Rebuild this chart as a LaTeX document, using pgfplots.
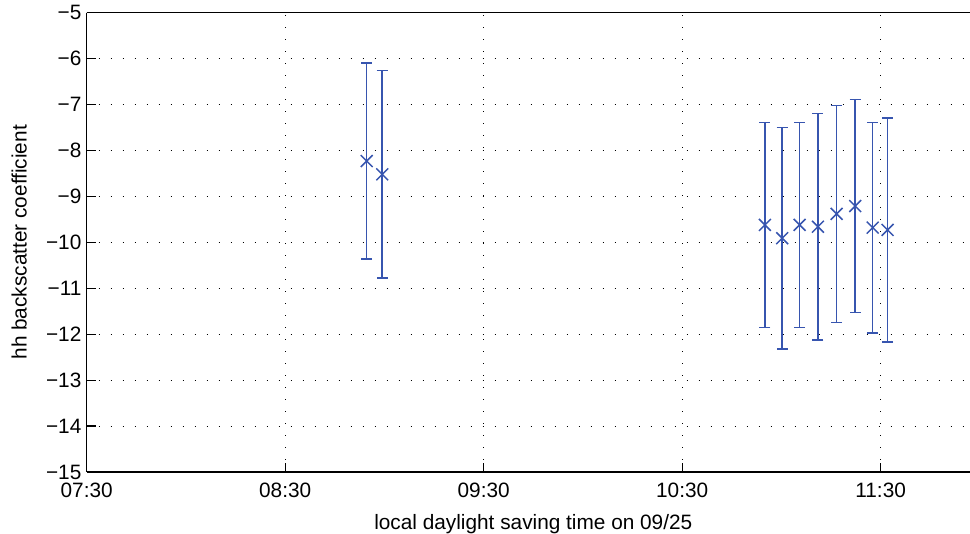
\documentclass[border=0pt]{standalone}
\usepackage{fontspec}
\setmainfont{Liberation Sans}
\usepackage{pgfplots}
\pgfplotsset{compat=1.18}

\definecolor{barblue}{RGB}{55,85,175}

\begin{document}
\fontsize{10.4}{12.5}\selectfont
\begin{tikzpicture}
\begin{axis}[
    scale only axis,
    width=446.6pt,
    height=229.65pt,
    xmin=7.5, xmax=12,
    ymin=-15, ymax=-5,
    axis x line=box,
    axis y line=left,
    axis line style={line width=0.8pt, -},
    xtick={7.5,8.5,9.5,10.5,11.5},
    xticklabels={07:30,08:30,09:30,10:30,11:30},
    ytick={-15,-14,...,-5},
    yticklabels={−15,−14,−13,−12,−11,−10,−9,−8,−7,−6,−5},
    xtick pos=left, ytick pos=left,
    tick align=inside,
    major tick length=4.5pt,
    tick style={line width=0.6pt, black},
    tick label style={font=\fontsize{10.4}{12.5}\selectfont},
    xticklabel style={yshift=-2pt},
    yticklabel style={xshift=1pt},
    grid=major,
    grid style={black, line width=0.5pt, dash pattern=on 0.6pt off 5.4pt},
    xlabel={local daylight saving time on 09/25},
    ylabel={hh backscatter coefficient},
    label style={font=\fontsize{10.4}{12.5}\selectfont},
    xlabel style={yshift=-1pt},
    ylabel style={yshift=2.5pt},
    clip=false,
]
\addplot[
    color=barblue,
    only marks,
    mark=x,
    mark size=4.2pt,
    mark options={line width=0.75pt},
    error bars/.cd,
      y dir=both, y explicit,
      error bar style={line width=0.75pt, barblue},
      error mark options={rotate=90, mark size=2.75pt, line width=0.75pt, barblue},
] table[x=t, y=v, y error=e] {
t       v      e
8.9106  -8.23  2.13
8.9890  -8.52  2.26
10.917  -9.62  2.23
11.004  -9.91  2.41
11.092  -9.62  2.23
11.184  -9.66  2.47
11.278  -9.38  2.36
11.372  -9.21  2.32
11.460  -9.68  2.29
11.535  -9.73  2.44
};
\end{axis}
\pgfresetboundingbox
\useasboundingbox (-43.35pt,-31pt) rectangle (441.65pt,236pt);
\end{tikzpicture}
\end{document}
